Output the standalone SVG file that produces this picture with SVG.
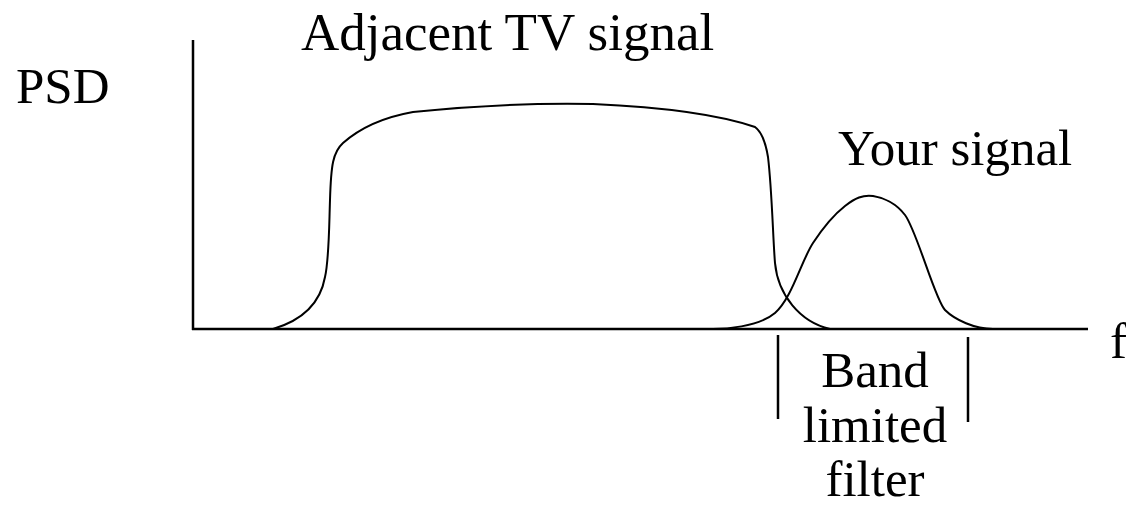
<svg xmlns="http://www.w3.org/2000/svg" width="1126" height="518" viewBox="0 0 1126 518">
<style>
.t{font-family:"Liberation Serif","Times New Roman",serif;font-size:51px;fill:#000}
.ln{stroke:#000;stroke-width:2.5;fill:none}
.cv{stroke:#000;stroke-width:2;fill:none}
</style>
<rect width="1126" height="518" fill="#fff"/>
<g id="axes">
<line class="ln" x1="193" y1="40" x2="193" y2="330"/>
<line class="ln" x1="192" y1="329" x2="1088" y2="329"/>
<text class="t" x="16" y="103">PSD</text>
<text class="t" x="1110" y="358">f</text>
</g>
<g id="tv-signal">
<path class="cv" d="M273,329 C300,321 320,305 325,277 C329,260 329,230 330,200 C331,165 333,152 343,143 C360,128 385,117 413,112 C470,106 540,103 593,104 C660,107 720,115 755,127 C762,132 766,145 768,157 C772,190 773,240 775,263 C778,295 800,322 830,329"/>
<text class="t" x="301" y="50" style="font-size:53px">Adjacent TV signal</text>
</g>
<g id="your-signal">
<path class="cv" d="M713,329 C723,329 758.3,327.3 775,313 C791.7,298.7 801.3,260.8 813,243 C824.7,225.2 835,213.8 845,206 C855,198.2 863,194.5 873,196 C883,197.5 896,203.2 905,215 C917,231 935,300 945,310 C955,320 975,329 993,329"/>
<text class="t" x="838" y="165">Your signal</text>
</g>
<g id="filter">
<line class="ln" x1="778" y1="335" x2="778" y2="419"/>
<line class="ln" x1="968" y1="337" x2="968" y2="422"/>
<text class="t" x="875" y="387" text-anchor="middle">Band</text>
<text class="t" x="875" y="442" text-anchor="middle">limited</text>
<text class="t" x="875" y="496" text-anchor="middle">filter</text>
</g>
</svg>
